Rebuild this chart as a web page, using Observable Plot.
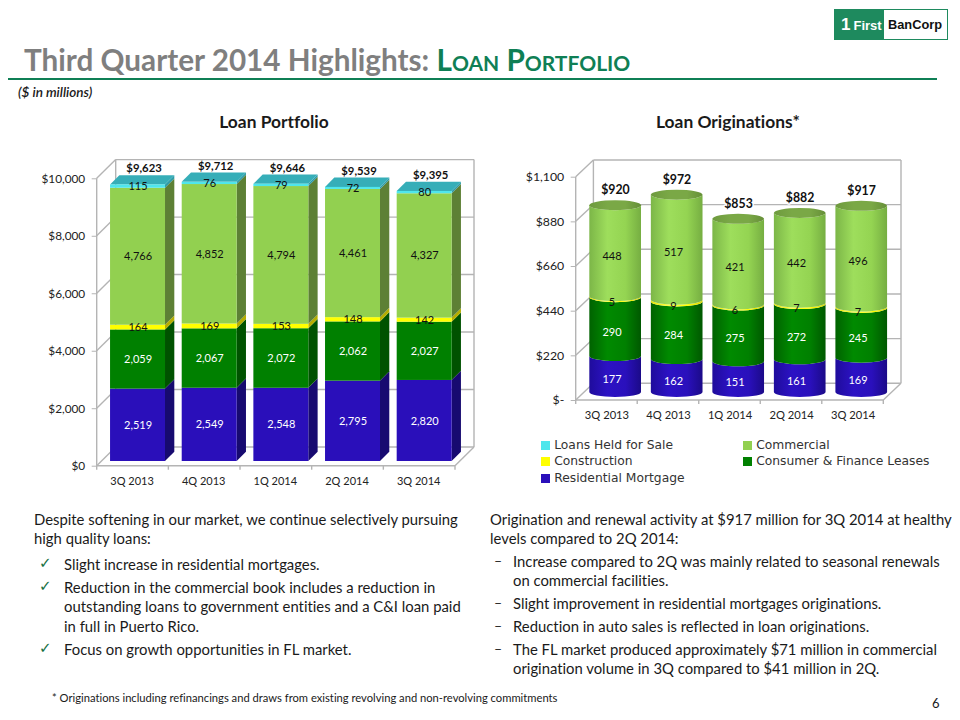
<!DOCTYPE html>
<html>
<head>
<meta charset="utf-8">
<script src="https://cdn.jsdelivr.net/npm/d3@7"></script>
<script src="https://cdn.jsdelivr.net/npm/@observablehq/plot@0.6"></script>
<style>
html,body{margin:0;padding:0;background:#fff;}
#page{position:relative;width:960px;height:720px;overflow:hidden;font-family:Lato,sans-serif;color:#1a1a1a;font-variant-ligatures:none;}
#page svg.chart{position:absolute;}
.t{position:absolute;white-space:nowrap;line-height:1;}
.body{font-size:14.85px;}
.sw{position:absolute;width:9px;height:9px;}
.lg{position:absolute;white-space:nowrap;font-family:"DejaVu Sans";font-size:12.3px;line-height:1;color:#333;}
</style>
</head>
<body>
<div id="page"></div>
<script>
// ---- data ----
const quarters = ["3Q 2013","4Q 2013","1Q 2014","2Q 2014","3Q 2014"];
const seriesNames = ["Residential Mortgage","Consumer & Finance Leases","Construction","Commercial","Loans Held for Sale"];
const portfolioResidential = [2519,2549,2548,2795,2820];
const portfolioConsumer = [2059,2067,2072,2062,2027];
const portfolioConstruction = [164,169,153,148,142];
const portfolioCommercial = [4766,4852,4794,4461,4327];
const portfolioHeldForSale = [115,76,79,72,80];
const portfolioTotals = [9623,9712,9646,9539,9395];
const portfolioTicks = [0,2000,4000,6000,8000,10000];
const origResidential = [177,162,151,161,169];
const origConsumer = [290,284,275,272,245];
const origConstruction = [5,9,6,7,7];
const origCommercial = [448,517,421,442,496];
const origTotals = [920,972,853,882,917];
const origTicks = [0,220,440,660,880,1100];

const front = {"Residential Mortgage":"#2a0fba","Consumer & Finance Leases":"#008000","Construction":"#ffff00","Commercial":"#92d050","Loans Held for Sale":"#4fe6ec"};
const side  = {"Residential Mortgage":"#170a70","Consumer & Finance Leases":"#005200","Construction":"#b5ad00","Commercial":"#5d8035","Loans Held for Sale":"#2f9ca8"};
const labelInk = {"Residential Mortgage":"#fff","Consumer & Finance Leases":"#fff","Construction":"#111","Commercial":"#111","Loans Held for Sale":"#111"};
const gridColor = "#b4b4b4", inkColor = "#222";

const toRows = (cols) => cols.flatMap((vals, s) => vals.map((value, q) => ({quarter: quarters[q], series: seriesNames[s], value})));
const portfolioRows = toRows([portfolioResidential,portfolioConsumer,portfolioConstruction,portfolioCommercial,portfolioHeldForSale]);
const origRows = toRows([origResidential,origConsumer,origConstruction,origCommercial]);

const svgEl = (name, attrs={}, parent) => {
  const e = document.createElementNS("http://www.w3.org/2000/svg", name);
  for (const k in attrs) e.setAttribute(k, attrs[k]);
  if (parent) parent.appendChild(e);
  return e;
};

// walls, floor and gridlines of the 3-D box, through the chart's scales
function walls(ticks, depthX, depthY) {
  return (index, {x, y}) => {
    const g = svgEl("g", {fill:"none", stroke:gridColor, "stroke-width":1.4});
    const [x0, x1] = x.range();
    const line = (a,b,c,d) => svgEl("line",{x1:a,y1:b,x2:c,y2:d},g);
    const y0 = y(ticks[0]), yt = y(ticks[ticks.length-1]);
    for (const t of ticks) {
      line(x0, y(t), x0+depthX, y(t)-depthY);
      line(x0+depthX, y(t)-depthY, x1+depthX, y(t)-depthY);
    }
    line(x0, y0, x0, yt);
    line(x0+depthX, y0-depthY, x0+depthX, yt-depthY);
    line(x1+depthX, y0-depthY, x1+depthX, yt-depthY);
    line(x1, y0, x1+depthX, y0-depthY);
    line(x0, y0, x1, y0);
    const step = x.step();
    for (let i=0;i<=quarters.length;i++) line(x0+i*step, y0, x0+i*step, y0+4);
    return g;
  };
}

// side and top faces of the box bars
function boxFaces(rows, dx, dy, ddx, ddy) {
  return (index, scales, values, dims, ctx, next) => {
    const g = svgEl("g");
    const w = scales.x.bandwidth();
    const last = seriesNames[seriesNames.length-1];
    for (const i of index) {
      const xl = values.x[i]+dx, xr = xl+w, yb = values.y1[i]+dy, yt = values.y2[i]+dy;
      svgEl("polygon",{points:`${xr},${yb} ${xr+ddx},${yb-ddy} ${xr+ddx},${yt-ddy} ${xr},${yt}`, fill:side[rows[i].series]},g);
      if (rows[i].series === last)
        svgEl("polygon",{points:`${xl},${yt} ${xl+ddx},${yt-ddy} ${xr+ddx},${yt-ddy} ${xr},${yt}`, fill:"#36aeb8"},g);
    }
    g.appendChild(next(index, scales, values, dims, ctx));
    return g;
  };
}

// cylinders drawn from the stacked bar's scaled values
function cylinders(rows, prefix, dx, dy, ry) {
  return (index, scales, values) => {
    const g = svgEl("g");
    const defs = svgEl("defs",{},g);
    const ramp = (id, c0, c1, c2, c3) => {
      const lg = svgEl("linearGradient",{id:prefix+id,x1:0,x2:1,y1:0,y2:0},defs);
      [[0,c0],[.35,c1],[.7,c2],[1,c3]].forEach(([o,c]) => svgEl("stop",{offset:o,"stop-color":c},lg));
    };
    ramp("s0","#1f0c9c","#2c12c4","#2a10bc","#1b0a88");
    ramp("s1","#006200","#008a00","#008000","#005800");
    ramp("s2","#e6e600","#ffff40","#ffff00","#d8d800");
    ramp("s3","#7cb648","#9ede5c","#94d452","#76ae42");
    ramp("top","#6e9a3e","#7aa846","#7aa846","#668f38");
    const w = scales.x.bandwidth(), rx = w/2;
    const topOf = new Map();
    for (const i of index) {
      const xl = values.x[i]+dx, xr = xl+w, yb = values.y1[i]+dy, yt = values.y2[i]+dy;
      const k = seriesNames.indexOf(rows[i].series);
      svgEl("path",{d:`M${xl},${yt}A${rx},${ry} 0 0 0 ${xr},${yt}L${xr},${yb}A${rx},${ry} 0 0 1 ${xl},${yb}Z`, fill:`url(#${prefix}s${k})`},g);
      topOf.set(rows[i].quarter, {xl, yt});
    }
    for (const {xl, yt} of topOf.values())
      svgEl("ellipse",{cx:xl+rx,cy:yt,rx,ry,fill:`url(#${prefix}top)`},g);
    return g;
  };
}

const page = document.getElementById("page");
const chartStyle = {background:"transparent", fontFamily:"Lato", overflow:"visible"};
const labelsOf = (rows, extra) => Plot.text(rows, Plot.stackY({
  x:"quarter", y:"value", z:"series", text:d=>d3.format(",")(d.value),
  fill:d=>labelInk[d.series], fontSize:11, ...extra
}));

// ---- left chart: Loan Portfolio ----
const left = Plot.plot({
  width:480, height:370, marginLeft:96.7, marginRight:25, marginTop:48.3, marginBottom:34.3,
  style:chartStyle,
  x:{type:"band", domain:quarters, paddingInner:0.233, paddingOuter:0.1165, round:false, label:null},
  y:{domain:[0,10000], label:null},
  color:{domain:seriesNames, range:seriesNames.map(s=>front[s])},
  marks:[
    walls(portfolioTicks, 19, 18.7),
    Plot.axisY({ticks:portfolioTicks, tickSize:5, tickPadding:7, fontSize:11.8, stroke:gridColor, fill:inkColor, label:null, tickFormat:d=>"$"+d3.format(",")(d)}),
    Plot.axisX({tickSize:0, tickPadding:11, fontSize:11, fill:inkColor, label:null, dx:-1}),
    Plot.barY(portfolioRows,{x:"quarter", y:"value", fill:"series", dx:5, dy:-4.7, render:boxFaces(portfolioRows,5,-4.7,9.3,9.3)}),
    labelsOf(portfolioRows,{dx:5, dy:-4.7}),
    Plot.text(quarters.map((q,i)=>({q,t:portfolioTotals[i]})),{x:"q", y:"t", text:d=>"$"+d3.format(",")(d.t), dx:11, dy:-21, fontSize:11.3, fontWeight:"bold", fill:"#111"})
  ]
});
left.setAttribute("class", left.getAttribute("class")+" chart");
left.style.left="0px"; left.style.top="130px";
page.appendChild(left);

// ---- right chart: Loan Originations ----
const right = Plot.plot({
  width:480, height:300, marginLeft:95.7, marginRight:76.7, marginTop:46.7, marginBottom:30,
  style:chartStyle,
  x:{type:"band", domain:quarters, paddingInner:0.16, paddingOuter:0.08, round:false, label:null},
  y:{domain:[0,1100], label:null},
  color:{domain:seriesNames, range:seriesNames.map(s=>front[s])},
  marks:[
    walls(origTicks, 17.7, 16.7),
    Plot.axisY({ticks:origTicks, tickSize:5, tickPadding:7, fontSize:12.3, stroke:gridColor, fill:inkColor, label:null, tickFormat:d=>d===0?"$-":"$"+d3.format(",")(d)}),
    Plot.axisX({tickSize:0, tickPadding:11, fontSize:11.2, fill:inkColor, label:null}),
    Plot.barY(origRows,{x:"quarter", y:"value", fill:"series", render:cylinders(origRows,"o",8.7,-8,5)}),
    labelsOf(origRows,{dx:5, dy:-3}),
    Plot.text(quarters.map((q,i)=>({q,t:origTotals[i]})),{x:"q", y:"t", text:d=>"$"+d.t, dx:8.5, dy:-23.5, fontSize:12.3, fontWeight:"bold", fill:"#111", stroke:"#fff", strokeWidth:3})
  ]
});
right.setAttribute("class", right.getAttribute("class")+" chart");
right.style.left="480px"; right.style.top="130px";
page.appendChild(right);

// ---- page furniture ----
const addText = (str, x, yCenter, css="", cls="t") => {
  const d = document.createElement("div");
  d.className = cls;
  d.innerHTML = str;
  d.style.cssText = `left:${x}px;top:${yCenter}px;transform:translateY(-50%);${css}`;
  page.appendChild(d);
  return d;
};
addText(`Third Quarter 2014 Highlights: <span style="color:#0f7f55;font-variant:small-caps">Loan Portfolio</span>`, 24, 60, "font-size:29.7px;font-weight:bold;color:#7f7f7f;");
const rule = document.createElement("div");
rule.style.cssText="position:absolute;left:8px;top:78px;width:929px;height:1.5px;background:#0f7f55;";
page.appendChild(rule);
addText("($ in millions)", 18, 93, "font-size:13.5px;font-style:italic;font-weight:600;");
addText("Loan Portfolio", 274, 122, "font-size:17.4px;font-weight:bold;transform:translate(-50%,-50%);");
addText("Loan Originations*", 728, 122, "font-size:17.4px;font-weight:bold;transform:translate(-50%,-50%);");

const logo = document.createElement("div");
logo.style.cssText="position:absolute;left:834px;top:9px;width:112px;height:29px;border:1.5px solid #1e8a5e;background:#fff;line-height:29px;";
logo.innerHTML=`<span style="display:inline-block;width:49px;height:29px;background:#1e8a5e;color:#fff;font-family:'Liberation Sans';font-weight:bold;font-size:13px;vertical-align:top;"><span style="font-size:17px;margin-left:6px;margin-right:3px;">1</span>First</span><span style="font-family:'Liberation Sans';font-weight:bold;color:#111;margin-left:4px;font-size:12.8px;vertical-align:top;">BanCorp</span>`;
page.appendChild(logo);

// legend
[[seriesNames[4],540.7,445],[seriesNames[3],742.7,445],[seriesNames[2],540.7,461.3],[seriesNames[1],742.7,461.3],[seriesNames[0],540.7,478]].forEach(([name,x,y])=>{
  const s=document.createElement("div");
  s.className="sw"; s.style.cssText=`left:${x}px;top:${y-4.5}px;background:${front[name]};`;
  page.appendChild(s);
  addText(name.replace("&","&amp;"), x+13.5, y, "", "lg");
});

// body text
[
 [34,519,"Despite softening in our market, we continue selectively pursuing"],
 [34,538,"high quality loans:"],
 [64,564,"Slight increase in residential mortgages.",1],
 [64,587,"Reduction in the commercial book includes a reduction in",1],
 [64,606,"outstanding loans to government entities and a C&amp;I loan paid"],
 [64,626,"in full in Puerto Rico."],
 [64,649,"Focus on growth opportunities in FL market.",1],
 [490,519,"Origination and renewal activity at $917 million for 3Q 2014 at healthy"],
 [490,538,"levels compared to 2Q 2014:"],
 [513,561,"Increase compared to 2Q was mainly related to seasonal renewals",2],
 [513,580,"on commercial facilities."],
 [513,603,"Slight improvement in residential mortgages originations.",2],
 [513,626,"Reduction in auto sales is reflected in loan originations.",2],
 [513,649,"The FL market produced approximately $71 million in commercial",2],
 [513,668,"origination volume in 3Q compared to $41 million in 2Q."]
].forEach(([x,y,str,mark])=>{
  addText(str,x,y,"","t body");
  if(mark===1) addText("✓",x-25,y-1,"font-family:'DejaVu Sans';font-size:15px;color:#17703f;");
  if(mark===2) addText("–",x-19,y,"font-size:14px;");
});
addText("* Originations including refinancings and draws from existing revolving and non-revolving commitments",52,698,"font-size:11.2px;");
addText("6",932,703,"font-size:13px;");
</script>
</body>
</html>
